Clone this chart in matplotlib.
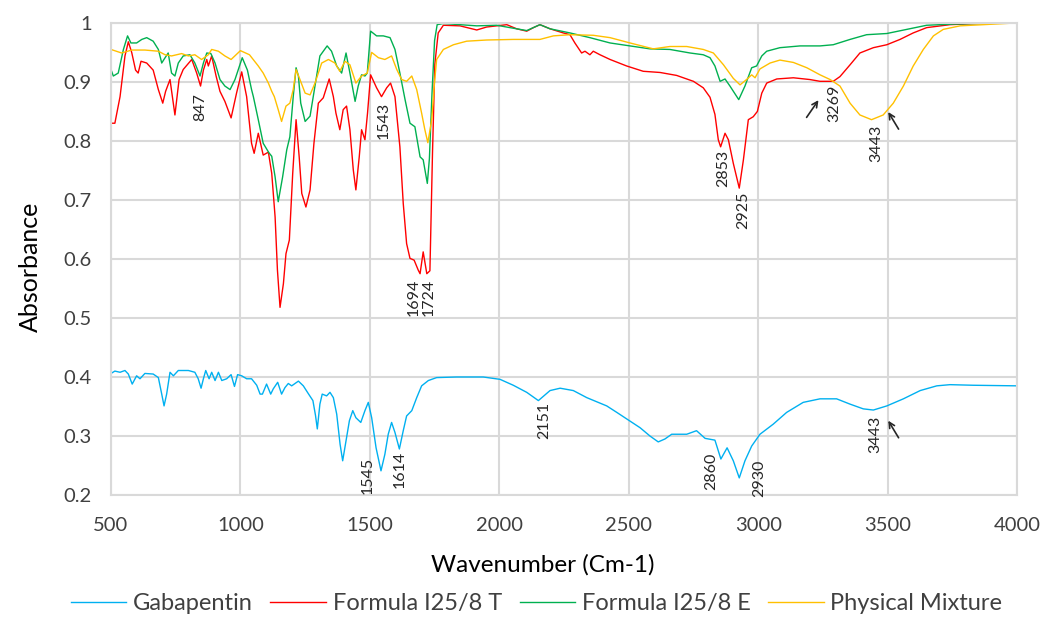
import matplotlib
matplotlib.use("Agg")
import matplotlib.pyplot as plt
from matplotlib import font_manager
from matplotlib.ticker import FuncFormatter

# pick a Calibri-like font if available
names = {f.name for f in font_manager.fontManager.ttflist}
base_font = "Lato" if "Lato" in names else "DejaVu Sans"
plt.rcParams["font.family"] = [base_font, "DejaVu Sans"]

# ---- data (wavenumber, absorbance) ----
gaba_wn = [500, 515, 535, 554, 567, 582, 599, 612, 631, 663, 683, 696, 705, 715, 728, 741, 760, 799,
           824, 837, 848, 857, 866, 879, 889, 902, 915, 928, 947, 964, 977, 989, 1005, 1024, 1043,
           1063, 1076, 1085, 1101, 1117, 1127, 1144, 1159, 1172, 1185, 1198, 1224, 1243, 1262, 1280,
           1290, 1297, 1307, 1316, 1333, 1346, 1359, 1372, 1385, 1395, 1408, 1421, 1434, 1446, 1465,
           1481, 1494, 1507, 1524, 1543, 1558, 1571, 1584, 1597, 1614, 1629, 1642, 1662, 1681, 1700,
           1726, 1758, 1835, 1938, 2003, 2054, 2106, 2151, 2196, 2235, 2286, 2338, 2415, 2454, 2492,
           2544, 2582, 2614, 2640, 2666, 2724, 2762, 2795, 2833, 2856, 2880, 2904, 2927, 2949, 2975,
           3007, 3058, 3110, 3174, 3239, 3303, 3355, 3406, 3445, 3497, 3561, 3626, 3690, 3741, 3831, 4000]
gaba_ab = [0.406, 0.41, 0.408, 0.411, 0.405, 0.388, 0.402, 0.397, 0.406, 0.405, 0.399, 0.371, 0.351,
           0.371, 0.408, 0.402, 0.411, 0.411, 0.408, 0.397, 0.381, 0.397, 0.411, 0.397, 0.408, 0.394,
           0.408, 0.394, 0.397, 0.404, 0.384, 0.404, 0.402, 0.397, 0.397, 0.386, 0.371, 0.371, 0.388,
           0.371, 0.38, 0.391, 0.371, 0.382, 0.389, 0.385, 0.393, 0.385, 0.372, 0.36, 0.335, 0.312,
           0.354, 0.371, 0.368, 0.374, 0.365, 0.337, 0.286, 0.258, 0.292, 0.326, 0.343, 0.331, 0.323,
           0.343, 0.357, 0.331, 0.28, 0.241, 0.269, 0.303, 0.323, 0.306, 0.278, 0.309, 0.334, 0.343,
           0.365, 0.385, 0.394, 0.399, 0.4, 0.4, 0.396, 0.386, 0.374, 0.36, 0.377, 0.381, 0.377, 0.365,
           0.351, 0.34, 0.329, 0.314, 0.3, 0.29, 0.295, 0.303, 0.303, 0.309, 0.296, 0.293, 0.261, 0.28,
           0.258, 0.229, 0.258, 0.283, 0.303, 0.32, 0.34, 0.357, 0.363, 0.363, 0.354, 0.346, 0.344,
           0.351, 0.363, 0.377, 0.385, 0.387, 0.386, 0.385]

t_wn = [500, 515, 535, 554, 567, 580, 595, 605, 616, 638, 663, 683, 700, 711, 728, 747, 763, 779, 812,
        831, 846, 857, 870, 876, 889, 906, 921, 940, 964, 985, 1005, 1024, 1043, 1053, 1069, 1088,
        1108, 1121, 1134, 1143, 1153, 1166, 1176, 1189, 1202, 1215, 1227, 1237, 1253, 1269, 1284,
        1301, 1320, 1343, 1359, 1369, 1384, 1397, 1410, 1423, 1436, 1446, 1459, 1468, 1481, 1491,
        1503, 1526, 1545, 1565, 1580, 1597, 1616, 1629, 1642, 1655, 1671, 1687, 1694, 1706, 1720,
        1732, 1742, 1751, 1764, 1784, 1848, 1913, 1951, 1990, 2029, 2067, 2106, 2132, 2157, 2196,
        2247, 2273, 2292, 2318, 2331, 2350, 2363, 2389, 2428, 2492, 2556, 2621, 2685, 2750, 2788,
        2814, 2833, 2846, 2855, 2872, 2885, 2904, 2927, 2943, 2962, 2981, 2997, 3014, 3033, 3072,
        3136, 3200, 3239, 3290, 3316, 3355, 3393, 3445, 3497, 3548, 3599, 3651, 3741, 3850, 4000]
t_ab = [0.83, 0.83, 0.875, 0.944, 0.968, 0.95, 0.92, 0.915, 0.935, 0.932, 0.92, 0.887, 0.864, 0.884,
        0.904, 0.844, 0.904, 0.921, 0.938, 0.915, 0.893, 0.92, 0.938, 0.927, 0.944, 0.91, 0.884, 0.867,
        0.839, 0.881, 0.917, 0.875, 0.796, 0.779, 0.813, 0.776, 0.781, 0.745, 0.671, 0.581, 0.518,
        0.558, 0.609, 0.632, 0.745, 0.836, 0.773, 0.711, 0.688, 0.717, 0.796, 0.864, 0.873, 0.905,
        0.875, 0.847, 0.819, 0.853, 0.859, 0.819, 0.751, 0.717, 0.773, 0.819, 0.802, 0.847, 0.912,
        0.89, 0.875, 0.89, 0.898, 0.875, 0.79, 0.694, 0.626, 0.601, 0.598, 0.581, 0.575, 0.612, 0.575,
        0.58, 0.78, 0.93, 0.983, 0.996, 0.995, 0.988, 0.993, 0.995, 0.997, 0.99, 0.986, 0.992, 0.997,
        0.99, 0.983, 0.98, 0.966, 0.949, 0.952, 0.946, 0.952, 0.946, 0.938, 0.927, 0.918, 0.916,
        0.911, 0.901, 0.89, 0.874, 0.845, 0.802, 0.79, 0.813, 0.802, 0.762, 0.72, 0.768, 0.836,
        0.841, 0.85, 0.881, 0.898, 0.905, 0.907, 0.904, 0.901, 0.901, 0.909, 0.929, 0.949, 0.958,
        0.963, 0.972, 0.983, 0.992, 0.997, 0.999, 1.0]

e_wn = [500, 509, 528, 548, 564, 577, 599, 619, 638, 663, 683, 696, 709, 721, 734, 747, 760, 779, 805,
        824, 844, 857, 870, 886, 902, 921, 940, 960, 979, 1007, 1027, 1043, 1050, 1069, 1088, 1110,
        1121, 1134, 1146, 1163, 1179, 1191, 1204, 1215, 1224, 1233, 1250, 1269, 1288, 1307, 1335,
        1352, 1372, 1391, 1408, 1423, 1443, 1455, 1468, 1481, 1490, 1503, 1526, 1552, 1578, 1597,
        1616, 1636, 1655, 1674, 1694, 1706, 1722, 1730, 1740, 1750, 1760, 1784, 1848, 1913, 1990,
        2041, 2106, 2157, 2196, 2273, 2350, 2428, 2505, 2582, 2659, 2737, 2788, 2814, 2833, 2853,
        2872, 2891, 2925, 2949, 2975, 2994, 3014, 3033, 3084, 3162, 3239, 3290, 3355, 3419, 3497,
        3574, 3651, 3754, 4000]
e_ab = [0.921, 0.91, 0.915, 0.955, 0.978, 0.966, 0.966, 0.972, 0.975, 0.969, 0.955, 0.932, 0.941,
        0.949, 0.915, 0.91, 0.932, 0.944, 0.946, 0.932, 0.91, 0.932, 0.949, 0.948, 0.932, 0.904, 0.893,
        0.887, 0.904, 0.941, 0.92, 0.887, 0.875, 0.836, 0.796, 0.78, 0.774, 0.739, 0.697, 0.739, 0.785,
        0.807, 0.875, 0.924, 0.91, 0.864, 0.833, 0.842, 0.893, 0.944, 0.961, 0.952, 0.927, 0.915,
        0.949, 0.915, 0.867, 0.893, 0.912, 0.91, 0.915, 0.986, 0.978, 0.978, 0.975, 0.955, 0.915,
        0.87, 0.83, 0.824, 0.773, 0.768, 0.728, 0.77, 0.88, 0.97, 0.997, 0.999, 0.997, 0.995, 0.996,
        0.992, 0.987, 0.997, 0.99, 0.983, 0.975, 0.966, 0.961, 0.956, 0.955, 0.949, 0.946, 0.941,
        0.927, 0.901, 0.905, 0.893, 0.87, 0.893, 0.924, 0.927, 0.944, 0.952, 0.958, 0.961, 0.961,
        0.963, 0.972, 0.98, 0.982, 0.989, 0.996, 0.998, 1.0]

pm_wn = [500, 541, 580, 631, 683, 709, 734, 773, 799, 824, 850, 876, 889, 915, 940, 964, 1000, 1035,
         1069, 1088, 1108, 1121, 1131, 1146, 1159, 1176, 1191, 1204, 1215, 1230, 1250, 1269, 1288,
         1314, 1340, 1365, 1384, 1404, 1423, 1446, 1468, 1490, 1507, 1533, 1558, 1584, 1604, 1623,
         1642, 1662, 1681, 1700, 1712, 1724, 1739, 1750, 1758, 1784, 1823, 1874, 1951, 2054, 2157,
         2209, 2273, 2363, 2428, 2505, 2595, 2659, 2724, 2788, 2827, 2866, 2904, 2930, 2955, 2975,
         2988, 3007, 3046, 3084, 3136, 3188, 3239, 3278, 3316, 3355, 3393, 3438, 3483, 3522, 3561,
         3599, 3638, 3677, 3715, 3780, 3870, 4000]
pm_ab = [0.955, 0.949, 0.954, 0.954, 0.952, 0.946, 0.944, 0.948, 0.944, 0.946, 0.938, 0.946, 0.955,
         0.952, 0.944, 0.938, 0.953, 0.946, 0.927, 0.915, 0.898, 0.884, 0.875, 0.853, 0.833, 0.859,
         0.864, 0.887, 0.921, 0.904, 0.881, 0.878, 0.898, 0.932, 0.938, 0.932, 0.918, 0.935, 0.929,
         0.898, 0.91, 0.915, 0.95, 0.941, 0.938, 0.944, 0.921, 0.904, 0.901, 0.91, 0.887, 0.847, 0.82,
         0.797, 0.836, 0.9, 0.938, 0.955, 0.963, 0.969, 0.971, 0.972, 0.972, 0.978, 0.98, 0.979,
         0.975, 0.966, 0.956, 0.96, 0.96, 0.955, 0.949, 0.929, 0.906, 0.895, 0.904, 0.912, 0.907,
         0.922, 0.932, 0.937, 0.933, 0.924, 0.912, 0.904, 0.893, 0.864, 0.844, 0.836, 0.844, 0.864,
         0.893, 0.927, 0.955, 0.978, 0.989, 0.995, 0.997, 1.0]

# peak labels: text, x, y
peak_labels = [("847", 844, 0.858), ("1543", 1553, 0.834), ("1694", 1668, 0.535), ("1724", 1727, 0.535),
               ("2853", 2866, 0.754), ("2925", 2943, 0.683), ("3269", 3293, 0.863), ("3443", 3457, 0.796),
               ("1545", 1490, 0.234), ("1614", 1616, 0.244), ("2151", 2173, 0.327),
               ("2860", 2818, 0.240), ("2930", 3003, 0.229), ("3443", 3452, 0.303)]
# arrows: (tail x, tail y, head x, head y)
arrows = [(3181, 0.836, 3239, 0.873), (3548, 0.816, 3497, 0.853), (3548, 0.293, 3497, 0.330)]

fig = plt.figure(figsize=(10.5, 6.29), dpi=100)
ax = fig.add_axes([0.1057, 0.213, 0.8629, 0.7506])

lw = 1.0
ax.plot(gaba_wn, gaba_ab, color="#00B0F0", lw=lw, label="Gabapentin")
ax.plot(t_wn, t_ab, color="#FF0000", lw=lw, label="Formula I25/8 T")
ax.plot(e_wn, e_ab, color="#00B050", lw=lw, label="Formula I25/8 E")
ax.plot(pm_wn, pm_ab, color="#FFC000", lw=lw, label="Physical Mixture")

for txt, x, y in peak_labels:
    ax.text(x, y, txt, rotation=90, ha="center", va="center", fontsize=11.5, color="#262626")
for x0, y0, x1, y1 in arrows:
    ax.annotate("", xy=(x1, y1), xytext=(x0, y0),
                arrowprops=dict(arrowstyle="->", color="#262626", lw=1.2))

ax.set_xlim(500, 4000)
ax.set_ylim(0.2, 1.0)
ax.set_xticks(range(500, 4001, 500))
ax.set_yticks([0.2, 0.3, 0.4, 0.5, 0.6, 0.7, 0.8, 0.9, 1.0])
ax.yaxis.set_major_formatter(FuncFormatter(lambda v, p: "%g" % round(v, 2)))
ax.grid(True, color="#D9D9D9", lw=1.5)
ax.set_axisbelow(True)
for s in ax.spines.values():
    s.set_color("#D9D9D9")
    s.set_linewidth(1.5)
ax.tick_params(length=0, labelsize=14.5, labelcolor="#404040")
ax.tick_params(axis="x", pad=16)
ax.tick_params(axis="y", pad=14)

ax.set_xlabel("Wavenumber (Cm-1)", fontsize=17.5, color="#000000")
ax.xaxis.set_label_coords(0.476, -0.124)
ax.set_ylabel("Absorbance", fontsize=18, color="#000000")
ax.yaxis.set_label_coords(-0.076, 0.483)

fig.legend(loc="center", bbox_to_anchor=(0.511, 0.04), ncol=4, frameon=False, fontsize=17,
           handlelength=2.35, columnspacing=0.75, handletextpad=0.28, labelcolor="#404040")

fig.savefig("out.png", dpi=100)
